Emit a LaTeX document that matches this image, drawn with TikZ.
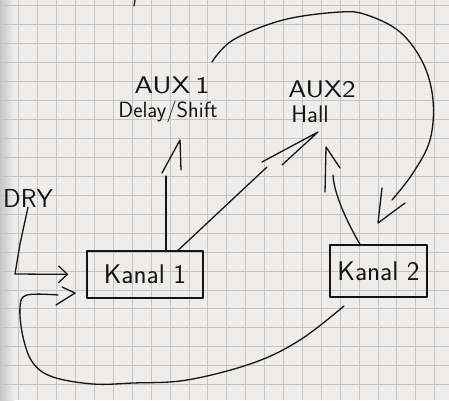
\documentclass[tikz,border=0pt]{standalone}
\usetikzlibrary{arrows.meta,calc}
\definecolor{paper}{HTML}{EEEDEB}
\definecolor{gridc}{HTML}{C4C4C4}
\definecolor{inkc}{HTML}{141414}
\begin{document}
\begin{tikzpicture}[x=1pt,y=-1pt,
  ink/.style={draw=inkc, line width=1.3pt, line cap=round, line join=round},
  lbl/.style={text=inkc, inner sep=0pt, font=\sffamily},
  kbox/.style={ink, rectangle, inner sep=0pt, text=inkc, font=\sffamily\fontsize{27}{27}\selectfont},
  gridline/.style={draw=gridc, line width=0.9pt}]
\useasboundingbox (0,0) rectangle (449,400);
\fill[paper] (0,0) rectangle (449,400);
\shade[left color=black!22, right color=paper] (0,0) rectangle (14,400);
% grid
\foreach \i in {0,...,23} { \draw[gridline] (18.9*\i,0) -- (18.9*\i,400); }
\foreach \j in {0,...,21} { \draw[gridline] (0,5.7+18.95*\j) -- (449,5.7+18.95*\j); }
% small stroke at top edge
\draw[ink] (135,0) -- (134,6);
% labels
\node[lbl, font=\sffamily\fontsize{24}{24}\selectfont] (aux1) at (172,85) {\scalebox{1.25}[1]{AUX\,1}};
\node[lbl, font=\sffamily\fontsize{22}{22}\selectfont] (delay) at (168,112) {Delay/Shift};
\node[lbl, font=\sffamily\fontsize{24}{24}\selectfont] (aux2) at (322,89) {\scalebox{1.2}[1]{AUX2}};
\node[lbl, font=\sffamily\fontsize{24}{24}\selectfont] (hall) at (310,114) {Hall};
\node[lbl, font=\sffamily\fontsize{26}{26}\selectfont] (dry) at (28,198) {DRY};
% channel boxes
\node[kbox, minimum width=116pt, minimum height=47pt] (k1) at (145,274.5) {Kanal 1\hspace{20pt}};
\node[kbox, minimum width=97pt, minimum height=52pt] (k2) at (378.5,271) {Kanal 2};
% DRY -> Kanal 1
\coordinate (d1) at (20,244);
\coordinate (d2) at (15,274);
\draw[ink, -{Straight Barb[length=9pt,width=17pt]}, shorten >=18pt]
  (dry.south) -- (d1) -- (d2) -- (k1.west);
% Kanal 1 -> AUX 1
\coordinate (s1) at (166,176);
\coordinate (h1) at (180,140);
\draw[ink] (k1.north -| s1) -- (s1);
\draw[ink] ($(h1)+(-18,33)$) -- (h1) -- ++(1,30);
% Kanal 1 -> AUX 2
\coordinate (s2) at (267,167);
\coordinate (h2) at (318,132);
\draw[ink] (k1.north -| 178,0) -- (s2);
\draw[ink] ($(h2)+(-56,30)$) -- (h2) -- ++(-36,33);
% Kanal 2 -> AUX 2
\coordinate (s3) at (333,175);
\coordinate (h3) at (326,147);
\draw[ink] (k2.north -| 360,0) .. controls (347,222) and (334,194) .. (s3);
\draw[ink] ($(h3)+(-1,45)$) -- (h3) -- ++(14,21);
% AUX 1 -> Kanal 2 (big arc)
\coordinate (h4) at (378,223);
\draw[ink] plot[smooth, tension=0.6] coordinates {(212,62) (233,40) (283,20) (340,12) (367,15) (400,32) (423,63) (433,100) (430,140) (413,173) (392,200)};
\draw[ink] ($(h4)+(4,-35)$) -- (h4) -- ++(27,-20);
% Kanal 2 -> Kanal 1 (loop below)
\coordinate (h5) at (75,293);
\draw[ink] plot[smooth, tension=0.6] coordinates {(344,306) (300,340) (253,363) (187,380) (133,383) (93,384) (53,377) (33,363) (23,337) (20,307) (27,295) (58,295)};
\draw[ink] ($(h5)+(-13,-6)$) -- (h5) -- ++(-19,12);
\end{tikzpicture}
\end{document}
